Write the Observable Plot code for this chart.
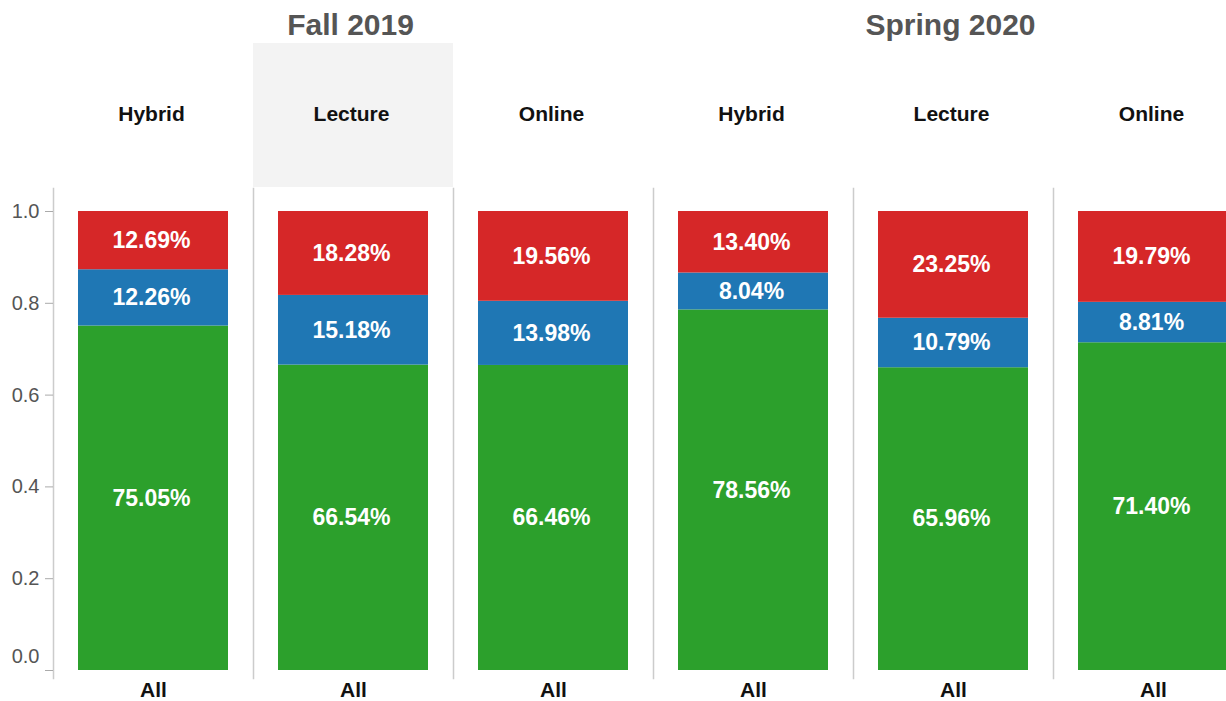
<!DOCTYPE html>
<html>
<head>
<meta charset="utf-8">
<script src="https://cdn.jsdelivr.net/npm/d3@7"></script>
<script src="https://cdn.jsdelivr.net/npm/@observablehq/plot@0.6"></script>
<style>
  html, body { margin: 0; padding: 0; background: #fff; overflow: hidden; }
  #chart { width: 1253px; }
  #chart svg { display: block; max-width: none !important; }
</style>
</head>
<body>
<div id="chart"></div>
<script>
// ---- data ----
const terms = ["Fall 2019", "Spring 2020"];
const modes = ["Hybrid", "Lecture", "Online"];
const xCategory = ["All"];
const seriesNames = ["Series A", "Series B", "Series C"];
// one value per facet, order: Fall Hybrid, Fall Lecture, Fall Online, Spring Hybrid, Spring Lecture, Spring Online
const seriesA = [75.05, 66.54, 66.46, 78.56, 65.96, 71.40]; // bottom (green)
const seriesB = [12.26, 15.18, 13.98, 8.04, 10.79, 8.81];   // middle (blue)
const seriesC = [12.69, 18.28, 19.56, 13.40, 23.25, 19.79]; // top (red)
const yTicks = [0, 0.2, 0.4, 0.6, 0.8, 1.0];
const highlighted = "Fall 2019|Lecture";

// ---- build table ----
const facets = [];
terms.forEach(t => modes.forEach(m => facets.push({term: t, mode: m, key: `${t}|${m}`})));
const seriesValues = [seriesA, seriesB, seriesC];
const rows = [];
facets.forEach((f, i) => {
  seriesNames.forEach((s, j) => {
    rows.push({key: f.key, x: xCategory[0], series: s, value: seriesValues[j][i] / 100, label: seriesValues[j][i].toFixed(2) + "%"});
  });
});
const termTitles = terms.map(t => ({term: t, key: `${t}|${modes[1]}`}));

const font = "'Liberation Sans', Arial, Helvetica, sans-serif";

const chart = Plot.plot({
  width: 1253,
  height: 701,
  marginLeft: 53,
  marginRight: 0,
  marginTop: 188,
  marginBottom: 23,
  style: {fontFamily: font, overflow: "visible", background: "white", maxWidth: "none"},
  fx: {domain: facets.map(f => f.key), padding: 0, axis: null},
  x: {domain: xCategory, padding: 0},
  y: {domain: [0, 1], insetTop: 23, insetBottom: 8},
  color: {domain: seriesNames, range: ["#2ca02c", "#1f77b4", "#d62728"]},
  marks: [
    // highlighted header background
    Plot.rect(facets.filter(f => f.key === highlighted), {fx: "key", fill: "#f3f3f3", insetTop: -145, insetBottom: 491}),
    // facet separators
    Plot.frame({anchor: "left", stroke: "#cccccc", strokeWidth: 1.5}),
    // bars
    Plot.barY(rows, Plot.stackY({fx: "key", x: "x", y: "value", fill: "series", insetLeft: 25, insetRight: 25})),
    Plot.text(rows, Plot.stackY({fx: "key", x: "x", y: "value", z: "series", text: "label", fill: "white", fontSize: 23, fontWeight: "bold", dx: -2})),
    // facet headers
    Plot.text(facets, {fx: "key", text: "mode", frameAnchor: "top", dy: -82, dx: -2, fontSize: 21, fontWeight: "bold", fill: "#111"}),
    Plot.text(termTitles, {fx: "key", text: "term", frameAnchor: "top", dy: -175, dx: -3, fontSize: 30, fontWeight: "bold", fill: "#555"}),
    // axes
    Plot.axisX({tickSize: 0, tickPadding: 4, fontSize: 21, fontWeight: "bold", fill: "#111", label: null}),
    Plot.axisY({ticks: yTicks.slice(1), tickSize: 8, tickPadding: 6, tickFormat: d3.format(".1f"), fontSize: 20, fill: "#555", stroke: "#aaa", label: null}),
    Plot.axisY({ticks: [0], tickSize: 8, tickFormat: () => "", stroke: "#aaa", label: null}),
    Plot.axisY({ticks: [0], tickSize: 8, tickPadding: 6, tickFormat: d3.format(".1f"), dy: -14, stroke: "none", fontSize: 20, fill: "#555", label: null})
  ]
});
document.getElementById("chart").appendChild(chart);
</script>
</body>
</html>
